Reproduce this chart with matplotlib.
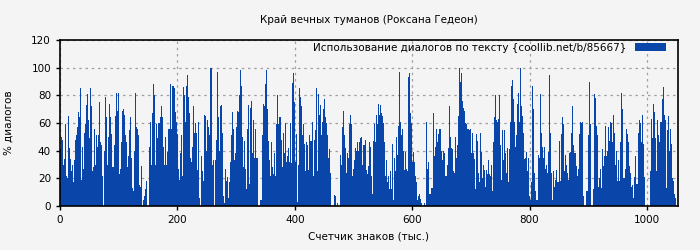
import numpy as np
import matplotlib
matplotlib.use("Agg")
import matplotlib.pyplot as plt

# dialogue share per slice of the text (left to right)
dialog_pct = [
    41, 50, 48, 30, 34, 59, 22, 20, 65, 42, 34, 25, 30, 17, 33, 48, 51, 57, 68, 64,
    85, 19, 43, 27, 53, 59, 73, 81, 62, 49, 85, 72, 25, 28, 56, 30, 51, 43, 51, 75,
    46, 44, 22, 0, 40, 79, 64, 30, 50, 74, 64, 52, 28, 28,
    44, 65, 82, 69, 82, 23, 27, 46, 69, 70, 66, 51, 46, 28, 36, 55, 64, 35, 13, 11,
    40, 82, 57, 56, 51, 15, 14, 29, 0, 4, 7, 12, 18, 0, 0, 43, 61, 30, 67, 88,
    80, 30, 59, 49, 60, 60, 64, 72, 64, 43,
    30, 50, 30, 39, 56, 56, 88, 56, 87, 87, 85, 68, 61, 52, 27, 19, 38, 51, 22, 86,
    80, 61, 87, 95, 79, 67, 35, 32, 43, 72, 53, 60, 53, 26, 61, 6, 0, 36, 25, 18,
    66, 65, 40, 62, 57, 51, 100, 100, 30, 33,
    0, 33, 48, 97, 64, 40, 72, 73, 53, 7, 2, 27, 18, 21, 6, 17, 32, 51, 68, 56,
    33, 38, 57, 69, 68, 80, 98, 87, 50, 28, 47, 27, 12, 56, 73, 16, 71, 76, 38, 62,
    35, 56, 35, 35, 0, 0, 4, 4, 51, 74,
    72, 88, 98, 70, 47, 33, 22, 46, 28, 23, 38, 22, 59, 80, 59, 64, 64, 48, 28, 53,
    38, 60, 32, 36, 42, 32, 60, 31, 89, 96, 75, 32, 52, 3, 30, 85, 79, 72, 51, 59,
    45, 25, 46, 44, 26, 51, 47, 47, 61, 22,
    48, 55, 85, 25, 81, 66, 73, 51, 61, 70, 77, 64, 60, 51, 35, 41, 24, 0, 0, 0,
    8, 7, 0, 2, 0, 0, 37, 30, 57, 69, 51, 42, 24, 38, 35, 59, 66, 59, 22, 27,
    33, 42, 40, 46, 40, 46, 49, 50, 30, 44,
    44, 48, 26, 23, 29, 46, 43, 22, 9, 47, 59, 46, 66, 59, 74, 66, 73, 67, 65, 60,
    46, 22, 33, 17, 22, 12, 25, 12, 45, 4, 35, 25, 50, 37, 58, 97, 61, 51, 56, 40,
    26, 39, 27, 25, 93, 96, 67, 60, 32, 39,
    32, 22, 17, 4, 7, 9, 5, 2, 0, 0, 2, 1, 61, 27, 32, 9, 9, 13, 13, 67,
    36, 43, 56, 46, 52, 56, 56, 40, 33, 40, 38, 22, 22, 30, 42, 72, 50, 42, 41, 25,
    24, 50, 35, 44, 65, 100, 90, 96, 76, 71,
    69, 60, 59, 56, 56, 55, 56, 38, 53, 38, 34, 12, 52, 47, 24, 17, 53, 39, 20, 30,
    26, 14, 26, 23, 33, 23, 22, 30, 11, 46, 64, 80, 62, 61, 63, 80, 44, 19, 55, 33,
    55, 38, 24, 42, 17, 41, 61, 87, 91, 77,
    61, 43, 51, 74, 82, 61, 100, 72, 65, 53, 34, 35, 39, 25, 35, 7, 4, 17, 87, 70,
    24, 11, 4, 4, 37, 35, 81, 53, 43, 35, 43, 27, 30, 24, 39, 95, 53, 24, 4, 25,
    14, 19, 26, 17, 17, 47, 18, 52, 64, 59,
    25, 37, 30, 24, 19, 38, 39, 53, 72, 44, 38, 38, 29, 22, 27, 52, 61, 60, 61, 7,
    0, 0, 11, 11, 51, 90, 59, 0, 0, 12, 81, 78, 58, 51, 14, 20, 27, 13, 41, 29,
    36, 58, 36, 40, 57, 47, 61, 60, 46, 66, 53, 30, 40, 18, 33,
    18, 46, 82, 70, 20, 20, 27, 56, 52, 46, 29, 24, 14, 15, 6, 21, 36, 16, 16, 53,
    62, 60, 46, 66, 45, 21, 0, 0, 0, 0, 0, 25, 63, 49, 74, 68, 49, 25, 62, 51,
    46, 61, 61, 77, 86, 66, 62, 13, 55, 65, 40, 56, 45, 20, 18, 9, 6,
]

total_chars = 1050          # thousand characters covered by the bars
x_ticks = [0, 200, 400, 600, 800, 1000]
y_ticks = [0, 20, 40, 60, 80, 100, 120]

title = "Край вечных туманов (Роксана Гедеон)"
legend_label = "Использование диалогов по тексту {coollib.net/b/85667}"

bg = "#f4f4f4"
bar_color = "#0a46aa"
fs = 7.5

fig = plt.figure(figsize=(7, 2.5), dpi=100, facecolor=bg)
ax = fig.add_axes([60 / 700, 1 - 206 / 250, 618 / 700, 166 / 250], facecolor=bg)

step = total_chars / len(dialog_pct)
xs = (np.arange(len(dialog_pct)) + 0.5) * step
ax.bar(xs, dialog_pct, width=step, color=bar_color, linewidth=0,
       label=legend_label, zorder=2)

ax.set_xlim(0, 1053)
ax.set_ylim(0, 120)
ax.set_xticks(x_ticks)
ax.set_yticks(y_ticks)
ax.grid(True, color="#a0a0a0", linestyle=(0, (2, 3)), linewidth=0.9, zorder=1)
ax.set_axisbelow(True)
ax.tick_params(labelsize=fs, length=3, width=1, color="black")
for s in ax.spines.values():
    s.set_linewidth(1.2)

ax.set_title(title, fontsize=fs, pad=12)
ax.set_xlabel("Счетчик знаков (тыс.)", fontsize=fs, labelpad=5)
ax.set_ylabel("% диалогов", fontsize=fs, labelpad=13)

leg = ax.legend(loc="upper right", bbox_to_anchor=(0.984, 0.996), fontsize=fs,
                frameon=False, markerfirst=False, handlelength=3.0,
                handleheight=0.7, borderaxespad=0.0, handletextpad=0.85,
                borderpad=0.2)

fig.savefig("out.png", dpi=100, facecolor=bg)
